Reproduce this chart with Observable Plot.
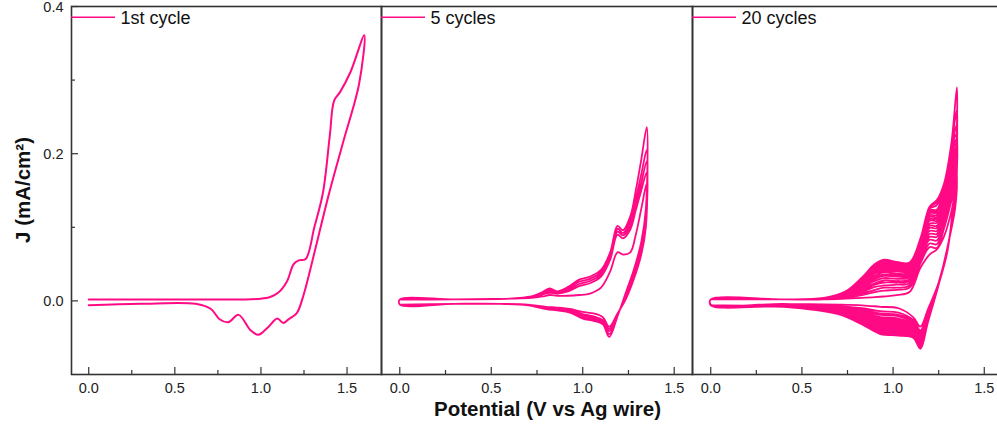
<!DOCTYPE html>
<html><head><meta charset="utf-8">
<script src="https://cdn.jsdelivr.net/npm/d3@7"></script>
<script src="https://cdn.jsdelivr.net/npm/@observablehq/plot@0.6"></script>
<style>
html,body{margin:0;padding:0;background:#fff;overflow:hidden;}
#wrap{position:relative;width:997px;height:425px;overflow:hidden;font-family:"Liberation Sans",Arial,sans-serif;}
#wrap svg{position:absolute;top:0;}
</style></head><body><div id="wrap"></div>
<script>
// ---------- data ----------
const legendLabels = ["1st cycle", "5 cycles", "20 cycles"];
const xMajor = [0, 0.5, 1.0, 1.5];
const xMinor = [0.25, 0.75, 1.25];
const yMajor = [0, 0.2, 0.4];
const yMinor = [0.1, 0.3];

// Panel 1: single cycle
const p1FwdV = [0, 0.3, 0.6, 0.9, 1.0, 1.05, 1.1, 1.15, 1.19, 1.22, 1.26, 1.31, 1.36, 1.4, 1.425, 1.46, 1.52, 1.6];
const p1FwdJ = [0.002, 0.002, 0.002, 0.002, 0.003, 0.005, 0.011, 0.026, 0.050, 0.055, 0.057, 0.100, 0.147, 0.225, 0.272, 0.284, 0.311, 0.361];
const p1RevV = [1.57, 1.48, 1.39, 1.31, 1.25, 1.21, 1.18, 1.16, 1.13, 1.095, 1.04, 0.985, 0.94, 0.87, 0.81, 0.76, 0.71, 0.62, 0.3, 0];
const p1RevJ = [0.295, 0.218, 0.141, 0.065, 0.010, -0.016, -0.022, -0.025, -0.030, -0.024, -0.036, -0.046, -0.040, -0.019, -0.029, -0.025, -0.011, -0.004, -0.004, -0.006];

// Panel 2: 5 cycles
const p2FwdV = [0, 0.3, 0.6, 0.72, 0.78, 0.82, 0.86, 0.92, 0.98, 1.04, 1.1, 1.15, 1.19, 1.22, 1.26, 1.29, 1.32, 1.35];
const p2RevV = [1.345, 1.32, 1.28, 1.235, 1.19, 1.145, 1.11, 1.06, 1.0, 0.93, 0.86, 0.8, 0.7, 0.55, 0.3, 0];
const p2FwdJ = [
 [.002,.002,.003,.004,.006,.008,.007,.007,.008,.010,.018,.040,.066,.063,.066,.090,.125,.160],
 [.002,.002,.003,.005,.009,.011,.010,.013,.020,.024,.033,.056,.090,.085,.097,.123,.150,.175],
 [.002,.002,.003,.005,.010,.013,.011,.015,.023,.027,.036,.059,.094,.089,.102,.130,.160,.190],
 [.002,.002,.003,.006,.011,.015,.012,.017,.026,.030,.039,.062,.098,.092,.108,.138,.172,.205],
 [.002,.002,.003,.006,.012,.017,.013,.019,.029,.033,.042,.066,.102,.096,.115,.150,.192,.236]
];
const p2RevJ = [
 [.100,.063,.030,.002,-.017,-.035,-.022,-.017,-.015,-.011,-.009,-.008,-.005,-.004,-.004,-.005],
 [.106,.068,.034,.005,-.018,-.038,-.026,-.021,-.018,-.013,-.011,-.009,-.005,-.004,-.004,-.005],
 [.112,.072,.037,.007,-.019,-.041,-.028,-.023,-.020,-.014,-.011,-.010,-.006,-.004,-.004,-.005],
 [.118,.076,.040,.009,-.020,-.045,-.030,-.025,-.022,-.015,-.012,-.010,-.006,-.004,-.004,-.005],
 [.125,.080,.043,.011,-.021,-.049,-.032,-.027,-.024,-.016,-.013,-.011,-.006,-.004,-.004,-.005]
];

// Panel 3: 20 cycles
const p3FwdV = [0, 0.4, 0.62, 0.74, 0.83, 0.9, 0.95, 1.02, 1.09, 1.15, 1.2, 1.24, 1.28, 1.32, 1.35];
const p3RevV = [1.34, 1.3, 1.25, 1.19, 1.15, 1.11, 1.03, 0.93, 0.83, 0.7, 0.4, 0];
const p3FwdJ = [
 [.002,.002,.002,.003,.004,.005,.006,.008,.012,.045,.063,.070,.088,.122,.160],
 [.002,.002,.002,.005,.008,.012,.014,.015,.018,.051,.073,.072,.099,.136,.165],
 [.002,.002,.002,.005,.010,.015,.018,.018,.021,.054,.078,.077,.105,.143,.170],
 [.002,.002,.003,.006,.012,.019,.021,.022,.024,.057,.083,.082,.110,.150,.174],
 [.002,.002,.003,.007,.014,.022,.025,.025,.027,.060,.087,.087,.115,.156,.178],
 [.002,.002,.003,.007,.016,.024,.028,.027,.029,.062,.091,.091,.119,.162,.182],
 [.002,.002,.003,.008,.018,.027,.031,.030,.032,.065,.095,.095,.123,.168,.186],
 [.002,.002,.003,.009,.019,.030,.034,.033,.034,.067,.099,.099,.127,.173,.190],
 [.002,.002,.003,.009,.021,.032,.036,.035,.036,.069,.102,.102,.131,.178,.193],
 [.002,.002,.003,.010,.022,.034,.039,.037,.038,.071,.105,.106,.135,.182,.196],
 [.002,.002,.003,.010,.024,.037,.041,.040,.040,.073,.109,.109,.138,.187,.199],
 [.002,.002,.003,.010,.025,.038,.043,.041,.042,.075,.111,.112,.141,.191,.202],
 [.002,.002,.004,.011,.026,.040,.045,.043,.043,.076,.114,.114,.144,.195,.205],
 [.002,.002,.004,.011,.027,.042,.047,.045,.045,.078,.116,.117,.147,.198,.209],
 [.002,.002,.004,.012,.028,.044,.049,.047,.046,.079,.119,.120,.150,.202,.214],
 [.002,.002,.004,.012,.029,.045,.051,.048,.048,.081,.121,.122,.152,.205,.220],
 [.002,.002,.004,.012,.030,.046,.052,.049,.049,.082,.123,.124,.154,.208,.228],
 [.002,.002,.004,.013,.031,.048,.054,.051,.050,.083,.125,.130,.156,.210,.240],
 [.002,.002,.004,.013,.031,.049,.055,.052,.051,.084,.127,.134,.159,.213,.260],
 [.002,.002,.004,.013,.032,.050,.056,.053,.052,.085,.128,.137,.160,.215,.290]
];
const p3RevJ = [
 [.125,.075,.025,-.012,-.035,-.022,-.010,-.008,-.006,-.005,-.004,-.005],
 [.132,.075,.025,-.015,-.040,-.026,-.016,-.014,-.010,-.007,-.004,-.005],
 [.135,.074,.025,-.016,-.042,-.028,-.019,-.017,-.012,-.008,-.004,-.005],
 [.139,.074,.025,-.017,-.044,-.030,-.021,-.019,-.014,-.009,-.005,-.005],
 [.142,.074,.025,-.019,-.046,-.032,-.024,-.022,-.016,-.010,-.005,-.005],
 [.144,.073,.025,-.020,-.048,-.034,-.026,-.024,-.017,-.011,-.005,-.005],
 [.147,.073,.025,-.021,-.050,-.036,-.028,-.026,-.019,-.011,-.005,-.005],
 [.150,.073,.024,-.022,-.052,-.037,-.030,-.028,-.020,-.012,-.005,-.005],
 [.152,.072,.024,-.023,-.053,-.039,-.032,-.030,-.022,-.013,-.006,-.005],
 [.154,.072,.024,-.024,-.055,-.040,-.034,-.032,-.023,-.013,-.006,-.005],
 [.157,.072,.024,-.025,-.056,-.042,-.036,-.034,-.024,-.014,-.006,-.006],
 [.158,.071,.024,-.025,-.057,-.043,-.037,-.035,-.025,-.015,-.006,-.006],
 [.160,.071,.024,-.026,-.058,-.044,-.039,-.037,-.026,-.015,-.006,-.006],
 [.162,.071,.024,-.027,-.060,-.045,-.040,-.038,-.027,-.016,-.007,-.006],
 [.164,.071,.023,-.027,-.061,-.046,-.042,-.040,-.028,-.016,-.007,-.006],
 [.165,.070,.023,-.028,-.062,-.047,-.043,-.041,-.029,-.017,-.007,-.006],
 [.166,.070,.023,-.029,-.063,-.048,-.044,-.042,-.030,-.017,-.007,-.006],
 [.168,.070,.023,-.029,-.063,-.049,-.045,-.043,-.031,-.017,-.007,-.006],
 [.169,.070,.023,-.030,-.064,-.049,-.046,-.044,-.031,-.018,-.008,-.006],
 [.170,.070,.022,-.030,-.065,-.050,-.047,-.045,-.032,-.018,-.008,-.006]
];

// ---------- build ----------
const PINK = "#ff0a84";
const INK = "#222";
const FONT = "'Liberation Sans', Arial, sans-serif";

function loopPoints(fV, fJs, rV, rJs) {
  const pts = [];
  fJs.forEach((fJ, k) => {
    fV.forEach((v, i) => pts.push({V: v, J: fJ[i]}));
    rV.forEach((v, i) => pts.push({V: v, J: rJs[k][i]}));
  });
  return pts;
}

const panels = [
  {left: 71, w: 310, xDomain: [-0.1, 1.7], pts: loopPoints(p1FwdV, [p1FwdJ], p1RevV, [p1RevJ]), yAxis: true, sw: 2},
  {left: 381, w: 311, xDomain: [-0.1, 1.6], pts: loopPoints(p2FwdV, p2FwdJ, p2RevV, p2RevJ), yAxis: false, sw: 1.8},
  {left: 692, w: 310, xDomain: [-0.1, 1.6], pts: loopPoints(p3FwdV, p3FwdJ, p3RevV, p3RevJ), yAxis: false, sw: 1.8}
];

const H = 425, MT = 6, MB = 51, MR = 20;
const yDom = [-0.1, 0.4];
const yPerPx = (yDom[1] - yDom[0]) / (H - MT - MB);
const wrap = document.getElementById("wrap");

panels.forEach((p, idx) => {
  const ML = idx === 0 ? p.left : 20;
  const xPerPx = (p.xDomain[1] - p.xDomain[0]) / p.w;
  const x0 = p.xDomain[0], yb = yDom[0];
  const marks = [
    Plot.line(p.pts, {x: "V", y: "J", curve: "catmull-rom", stroke: PINK, strokeWidth: p.sw, strokeLinejoin: "round"}),
    Plot.ruleX(xMajor, {x: d => d, y1: yb, y2: yb + 7 * yPerPx, stroke: "#333", strokeWidth: 1.2}),
    Plot.ruleX(xMinor, {x: d => d, y1: yb, y2: yb + 4 * yPerPx, stroke: "#333", strokeWidth: 1.2}),
    Plot.text(xMajor, {x: d => d, y: yb, text: d => d.toFixed(1), dy: 14, fontSize: 14.5, fill: INK}),
    Plot.frame({stroke: "#333", strokeWidth: 1.6})
  ];
  if (p.yAxis) {
    marks.push(
      Plot.ruleY(yMajor, {y: d => d, x1: x0, x2: x0 + 7 * xPerPx, stroke: "#333", strokeWidth: 1.2}),
      Plot.ruleY(yMinor, {y: d => d, x1: x0, x2: x0 + 4 * xPerPx, stroke: "#333", strokeWidth: 1.2}),
      Plot.text(yMajor, {x: x0, y: d => d, text: d => d.toFixed(1), textAnchor: "end", dx: -8, dy: 0.5, fontSize: 14.5, fill: INK})
    );
  }
  const chart = Plot.plot({
    width: ML + p.w + MR, height: H,
    marginTop: MT, marginBottom: MB, marginLeft: ML, marginRight: MR,
    x: {domain: p.xDomain, axis: null},
    y: {domain: yDom, axis: null},
    style: {background: "transparent", overflow: "visible", fontFamily: FONT, maxWidth: "none"},
    marks
  });
  chart.style.position = "absolute";
  chart.style.left = (p.left - ML) + "px";
  chart.style.top = "0px";
  wrap.appendChild(chart);
});

// overlay: legends and axis titles
const ns = "http://www.w3.org/2000/svg";
const ov = document.createElementNS(ns, "svg");
ov.setAttribute("width", 997); ov.setAttribute("height", 425);
ov.style.position = "absolute"; ov.style.left = "0px"; ov.style.top = "0px"; ov.style.overflow = "visible";
function el(tag, attrs, text) {
  const e = document.createElementNS(ns, tag);
  for (const k in attrs) e.setAttribute(k, attrs[k]);
  if (text != null) e.textContent = text;
  ov.appendChild(e);
  return e;
}
panels.forEach((p, i) => {
  el("line", {x1: p.left, x2: p.left + 44, y1: 17.3, y2: 17.3, stroke: PINK, "stroke-width": 1.5});
  el("text", {x: p.left + 49.5, y: 24, "font-size": 18, "font-family": FONT, fill: "#111"}, legendLabels[i]);
});
el("text", {transform: "translate(30,190) rotate(-90)", "text-anchor": "middle", "font-size": 20.5, "font-weight": "bold", "font-family": FONT, fill: "#111"}, "J (mA/cm²)");
el("text", {x: 547.5, y: 416, "text-anchor": "middle", "font-size": 20.5, "font-weight": "bold", "font-family": FONT, fill: "#111"}, "Potential (V vs Ag wire)");
wrap.appendChild(ov);
</script>
</body></html>
